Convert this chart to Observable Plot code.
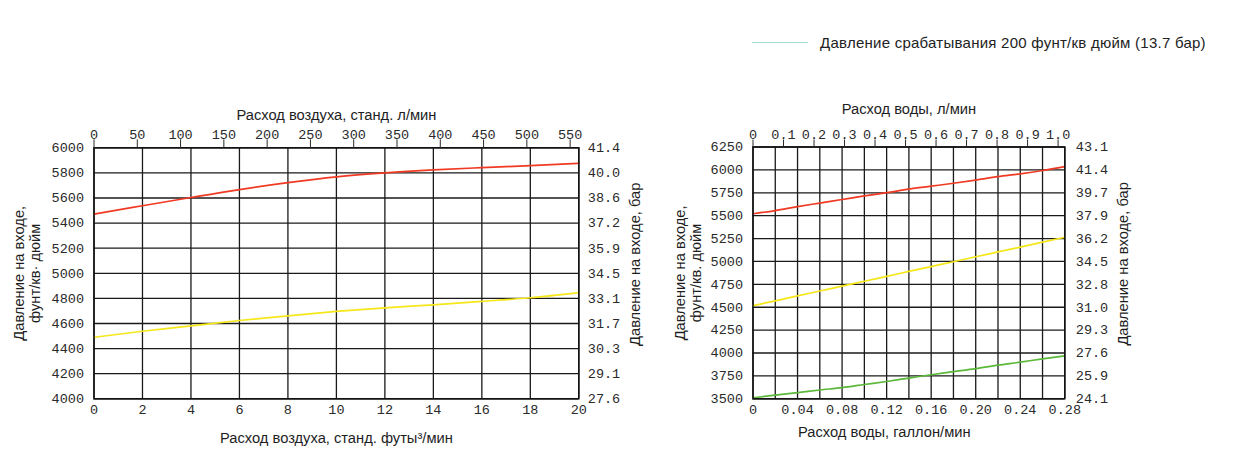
<!DOCTYPE html>
<html>
<head>
<meta charset="utf-8">
<script src="https://cdn.jsdelivr.net/npm/d3@7"></script>
<script src="https://cdn.jsdelivr.net/npm/@observablehq/plot@0.6"></script>
<style>
html, body { margin: 0; padding: 0; background: #fff; }
#wrap { position: relative; width: 1250px; height: 475px; overflow: hidden; font-family: "Liberation Sans", Arial, sans-serif; }
#left, #right { position: absolute; top: 0; }
#left { left: 0; }
#right { left: 640px; }
#legend { position: absolute; left: 752px; top: 33px; height: 18px; display: flex; align-items: center; font-size: 15px; letter-spacing: 0.25px; color: #222; white-space: nowrap; }
#legend .sw { display: inline-block; width: 56px; height: 1px; background: #a6d9cf; margin-right: 12px; }
</style>
</head>
<body>
<div id="wrap">
  <div id="legend"><span class="sw"></span><span id="legendText"></span></div>
  <div id="left"></div>
  <div id="right"></div>
</div>
<script>
// ---------- Data ----------
const legendLabel = "Давление срабатывания 200 фунт/кв дюйм (13.7 бар)";

// Left chart: air flow
const airTopTitle = "Расход воздуха, станд. л/мин";
const airBottomTitle = "Расход воздуха, станд. футы³/мин";
const airLeftTitle = "Давление на входе,\nфунт/кв· дюйм";
const airRightTitle = "Давление на входе, бар";
const airCfm = [0, 2, 4, 6, 8, 10, 12, 14, 16, 18, 20];
const airRed = [5472, 5538, 5604, 5667, 5722, 5768, 5800, 5824, 5842, 5858, 5876];
const airYellow = [4490, 4538, 4581, 4624, 4661, 4696, 4725, 4749, 4776, 4805, 4846];
const airCfmTicks = [0, 2, 4, 6, 8, 10, 12, 14, 16, 18, 20];
const airLpmTicks = [0, 50, 100, 150, 200, 250, 300, 350, 400, 450, 500, 550];
const airPsiTicks = [4000, 4200, 4400, 4600, 4800, 5000, 5200, 5400, 5600, 5800, 6000];
const airBarLabels = ["27.6", "29.1", "30.3", "31.7", "33.1", "34.5", "35.9", "37.2", "38.6", "40.0", "41.4"];
const LPM_PER_CFM = 28.0;

// Right chart: water flow
const waterTopTitle = "Расход воды, л/мин";
const waterBottomTitle = "Расход воды, галлон/мин";
const waterLeftTitle = "Давление на входе,\nфунт/кв. дюйм";
const waterRightTitle = "Давление на входе, бар";
const waterGpm = [0, 0.02, 0.04, 0.06, 0.08, 0.10, 0.12, 0.14, 0.16, 0.18, 0.20, 0.22, 0.24, 0.26, 0.28];
const waterRed = [5521, 5556, 5599, 5638, 5677, 5716, 5751, 5790, 5822, 5854, 5889, 5926, 5957, 5993, 6035];
const waterYellow = [4517, 4570, 4624, 4677, 4730, 4784, 4837, 4891, 4944, 4997, 5051, 5104, 5157, 5211, 5264];
const waterGreen = [3511, 3540, 3567, 3596, 3622, 3656, 3689, 3726, 3763, 3796, 3829, 3867, 3900, 3937, 3970];
const waterGpmGrid = [0, 0.02, 0.04, 0.06, 0.08, 0.10, 0.12, 0.14, 0.16, 0.18, 0.20, 0.22, 0.24, 0.26, 0.28];
const waterGpmTicks = [0, 0.04, 0.08, 0.12, 0.16, 0.20, 0.24, 0.28];
const waterLpmTicks = [0, 0.1, 0.2, 0.3, 0.4, 0.5, 0.6, 0.7, 0.8, 0.9, 1.0];
const waterPsiTicks = [3500, 3750, 4000, 4250, 4500, 4750, 5000, 5250, 5500, 5750, 6000, 6250];
const waterBarLabels = ["24.1", "25.9", "27.6", "29.3", "31.0", "32.8", "34.5", "36.2", "37.9", "39.7", "41.4", "43.1"];
const LPM_PER_GPM = 3.65;

// ---------- Styles ----------
const RED = "#f03a24", YELLOW = "#f6e71a", GREEN = "#5cb83a";
const MONO = "'Liberation Mono', 'DejaVu Sans Mono', monospace";
const SANS = "'Liberation Sans', Arial, sans-serif";
const gridStyle = {stroke: "#1a1a1a", strokeOpacity: 1, strokeWidth: 1.3};
const tickText = (o) => Object.assign({fontFamily: MONO, fontSize: 13.5, color: "#2a2a2a", label: null}, o);
const titleText = (o) => Object.assign({fontFamily: SANS, fontSize: 14.7, fill: "#1e1e1e", text: d => d, textAnchor: "middle", lineAnchor: "middle"}, o);
const rows = (xs, ys) => xs.map((x, i) => ({x, y: ys[i]}));
const plain = d => String(d);

document.getElementById("legendText").textContent = legendLabel;

// ---------- Left chart ----------
const left = Plot.plot({
  width: 640, height: 475,
  marginLeft: 93.5, marginRight: 61.7, marginTop: 147.3, marginBottom: 76.7,
  style: {background: "transparent", overflow: "visible"},
  x: {domain: [0, 20]},
  y: {domain: [4000, 6000]},
  marks: [
    Plot.gridX(airCfmTicks, gridStyle),
    Plot.gridY(airPsiTicks, gridStyle),
    Plot.line(rows(airCfm, airYellow), {x: "x", y: "y", stroke: YELLOW, strokeWidth: 1.7, curve: "monotone-x"}),
    Plot.line(rows(airCfm, airRed), {x: "x", y: "y", stroke: RED, strokeWidth: 1.7, curve: "monotone-x"}),
    Plot.frame({stroke: "#111", strokeWidth: 1.5}),
    Plot.axisX(airCfmTicks, tickText({anchor: "bottom", tickSize: 0, tickPadding: 6, tickFormat: plain})),
    Plot.axisX(airLpmTicks.map(v => v / LPM_PER_CFM), tickText({anchor: "top", tickSize: 9, tickPadding: 0, tickFormat: d => String(Math.round(d * LPM_PER_CFM))})),
    Plot.axisY(airPsiTicks, tickText({anchor: "left", tickSize: 0, tickPadding: 10, tickFormat: plain})),
    Plot.axisY(airPsiTicks, tickText({anchor: "right", tickSize: 0, tickPadding: 9, tickFormat: d => airBarLabels[airPsiTicks.indexOf(d)]})),
    Plot.text([airTopTitle], titleText({frameAnchor: "top", dy: -33})),
    Plot.text([airBottomTitle], titleText({frameAnchor: "bottom", dy: 39})),
    Plot.text([airLeftTitle], titleText({frameAnchor: "left", dx: -67, rotate: -90, lineHeight: 1.05})),
    Plot.text([airRightTitle], titleText({frameAnchor: "right", dx: 56.7, dy: -9, rotate: -90}))
  ]
});
document.getElementById("left").appendChild(left);

// ---------- Right chart ----------
const fmtGpm = d => d === 0 ? "0" : d.toFixed(2);
const fmtLpm = d => { const v = d * LPM_PER_GPM; return Math.abs(v) < 1e-9 ? "0" : v.toFixed(1); };
const right = Plot.plot({
  width: 610, height: 475,
  marginLeft: 112.5, marginRight: 185.7, marginTop: 146.5, marginBottom: 76.7,
  style: {background: "transparent", overflow: "visible"},
  x: {domain: [0, 0.28]},
  y: {domain: [3500, 6250]},
  marks: [
    Plot.gridX(waterGpmGrid, gridStyle),
    Plot.gridY(waterPsiTicks, gridStyle),
    Plot.line(rows(waterGpm, waterGreen), {x: "x", y: "y", stroke: GREEN, strokeWidth: 1.7, curve: "monotone-x"}),
    Plot.line(rows(waterGpm, waterYellow), {x: "x", y: "y", stroke: YELLOW, strokeWidth: 1.7, curve: "monotone-x"}),
    Plot.line(rows(waterGpm, waterRed), {x: "x", y: "y", stroke: RED, strokeWidth: 1.7, curve: "monotone-x"}),
    Plot.frame({stroke: "#111", strokeWidth: 1.5}),
    Plot.axisX(waterGpmTicks, tickText({anchor: "bottom", tickSize: 0, tickPadding: 6, tickFormat: fmtGpm})),
    Plot.axisX(waterLpmTicks.map(v => v / LPM_PER_GPM), tickText({anchor: "top", tickSize: 8, tickPadding: 0, tickFormat: fmtLpm})),
    Plot.axisY(waterPsiTicks, tickText({anchor: "left", tickSize: 0, tickPadding: 10, tickFormat: plain})),
    Plot.axisY(waterPsiTicks, tickText({anchor: "right", tickSize: 0, tickPadding: 11, tickFormat: d => waterBarLabels[waterPsiTicks.indexOf(d)]})),
    Plot.text([waterTopTitle], titleText({frameAnchor: "top", dy: -37.5})),
    Plot.text([waterBottomTitle], titleText({frameAnchor: "bottom", dx: -24.6, dy: 33})),
    Plot.text([waterLeftTitle], titleText({frameAnchor: "left", dx: -65, rotate: -90, lineHeight: 1.1})),
    Plot.text([waterRightTitle], titleText({frameAnchor: "right", dx: 58.2, dy: -9, rotate: -90}))
  ]
});
document.getElementById("right").appendChild(right);
</script>
</body>
</html>
